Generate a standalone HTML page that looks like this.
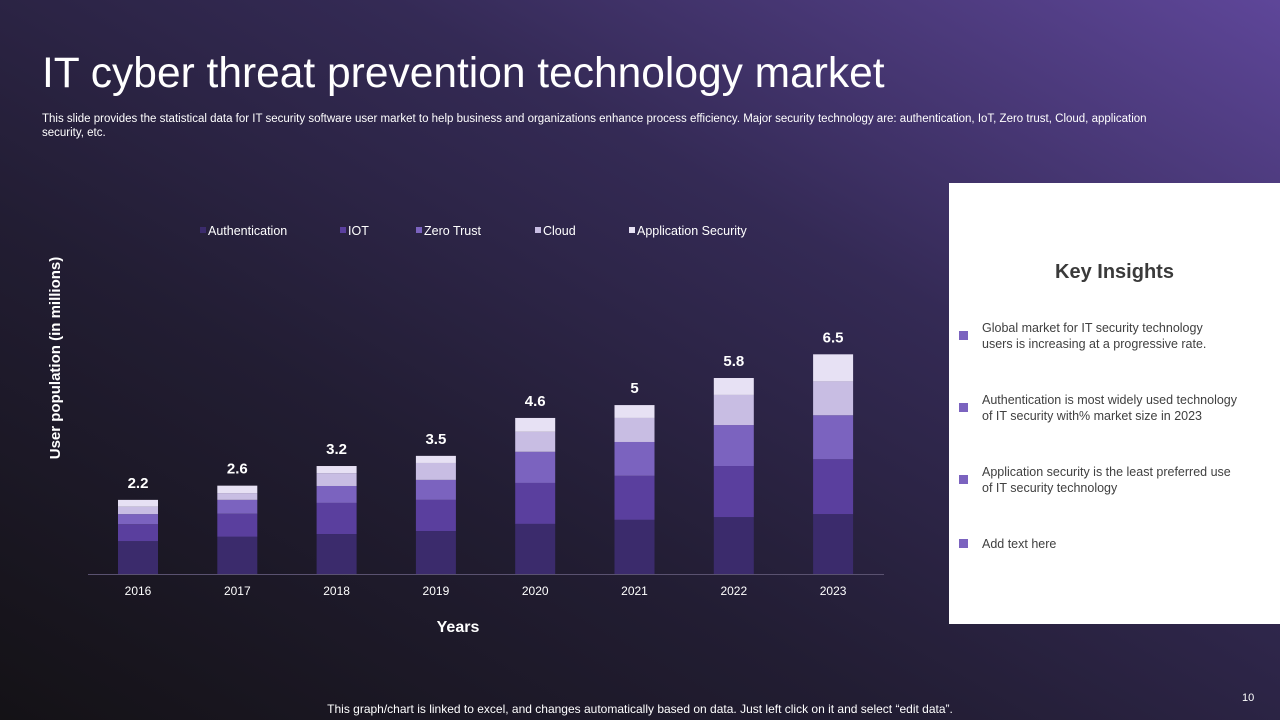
<!DOCTYPE html>
<html><head><meta charset="utf-8">
<style>
html,body{margin:0;padding:0}
body{width:1280px;height:720px;position:relative;overflow:hidden;font-family:"Liberation Sans",sans-serif;background:linear-gradient(to top right,#141216 0%,#221d33 35%,#342a55 65%,#5e4699 100%);color:#fff}
.abs{position:absolute}
#title{left:42px;top:50px;font-size:42.5px;color:#fff;white-space:nowrap}
#sub{left:42px;top:112px;width:1130px;font-size:11.5px;line-height:14px;color:#fff}
#panel{left:949px;top:183px;width:331px;height:441px;background:#fff}
#panel h2{position:absolute;left:0;width:331px;top:78px;margin:0;text-align:center;font-size:20px;color:#3a3a3a;font-weight:bold}
.ins{position:absolute;left:33px;width:250px;font-size:12.5px;line-height:16px;color:#404040}
.bul{position:absolute;left:10px;width:9px;height:9px;background:#7b63bf}
#foot{left:0;width:1280px;top:702px;text-align:center;font-size:12px;color:#fff}
#pg{left:1242px;top:692px;font-size:11px;color:#fff}
</style></head><body>
<div id="title" class="abs">IT cyber threat prevention technology market</div>
<div id="sub" class="abs">This slide provides the statistical data for IT security software user market to help business and organizations enhance process efficiency. Major security technology are: authentication, IoT, Zero trust, Cloud, application security, etc.</div>

<svg class="abs" style="left:0;top:0" width="940" height="660">
<g id="legend"></g>
<g id="bars"></g>
<line x1="88" y1="574.5" x2="884" y2="574.5" stroke="#5a5270" stroke-width="1"/>
<g id="xt"></g>
<text x="458" y="632" text-anchor="middle" font-size="16" font-weight="bold" fill="#fff">Years</text>
<text transform="translate(60,358) rotate(-90)" text-anchor="middle" font-size="15" font-weight="bold" fill="#fff">User population (in millions)</text>
</svg>

<div id="panel" class="abs">
<h2>Key Insights</h2>
<div class="bul" style="top:148px"></div>
<div class="ins" style="top:137px">Global market for IT security technology users is increasing at a progressive rate.</div>
<div class="bul" style="top:220px"></div>
<div class="ins" style="top:209px;width:268px">Authentication is most widely used technology of IT security with% market size in 2023</div>
<div class="bul" style="top:292px"></div>
<div class="ins" style="top:281px;width:262px">Application security is the least preferred use of IT security technology</div>
<div class="bul" style="top:356px"></div>
<div class="ins" style="top:353px">Add text here</div>
</div>

<div id="foot" class="abs">This graph/chart is linked to excel, and changes automatically based on data. Just left click on it and select “edit data”.</div>
<div id="pg" class="abs">10</div>

<script>
const years=["2016","2017","2018","2019","2020","2021","2022","2023"];
const authentication=[0.97,1.1,1.18,1.27,1.48,1.6,1.68,1.77];
const iot=[0.5,0.68,0.92,0.92,1.21,1.3,1.51,1.62];
const zeroTrust=[0.3,0.41,0.5,0.59,0.92,1.0,1.21,1.3];
const cloud=[0.22,0.2,0.38,0.5,0.59,0.71,0.89,1.0];
const appSecurity=[0.2,0.22,0.21,0.21,0.41,0.38,0.5,0.8];
const totals=["2.2","2.6","3.2","3.5","4.6","5","5.8","6.5"];
const seriesNames=["Authentication","IOT","Zero Trust","Cloud","Application Security"];
const NS="http://www.w3.org/2000/svg";
const series=[authentication,iot,zeroTrust,cloud,appSecurity];
const colors=["#3b2b6c","#5a3f9e","#7b63bf","#c8bde3","#e7e1f4"];
const keys=["authentication","iot","zero-trust","cloud","application-security"];
const base=574, pxPer=33.85, x0=138, step=99.3, bw=40;
function yScale(v){return base-v*pxPer;}
function xScale(i){return x0+i*step;}
const gb=document.getElementById('bars'), gx=document.getElementById('xt'), gl=document.getElementById('legend');
years.forEach((yr,i)=>{
  let cum=0;
  series.forEach((s,k)=>{
    const r=document.createElementNS(NS,'rect');
    const y1=yScale(cum+s[i]), y0=yScale(cum);
    r.setAttribute('x',xScale(i)-bw/2);r.setAttribute('y',y1);
    r.setAttribute('width',bw);r.setAttribute('height',y0-y1);
    r.setAttribute('fill',colors[k]);
    
    
    gb.appendChild(r);
    cum+=s[i];
  });
  const t=document.createElementNS(NS,'text');
  t.setAttribute('x',xScale(i));t.setAttribute('y',yScale(cum)-12);
  t.setAttribute('text-anchor','middle');t.setAttribute('font-size','15');t.setAttribute('font-weight','bold');t.setAttribute('fill','#fff');
  t.textContent=totals[i];
  
  
  gb.appendChild(t);
  const xt=document.createElementNS(NS,'text');
  xt.setAttribute('x',xScale(i));xt.setAttribute('y',595);
  xt.setAttribute('text-anchor','middle');xt.setAttribute('font-size','12');xt.setAttribute('fill','#fff');
  xt.textContent=yr;
  
  
  gx.appendChild(xt);
});
const lx=[200,340,416,535,629];
seriesNames.forEach((n,k)=>{
  const m=document.createElementNS(NS,'rect');
  m.setAttribute('x',lx[k]);m.setAttribute('y',227);m.setAttribute('width',6);m.setAttribute('height',6);m.setAttribute('fill',colors[k]);
  
  
  gl.appendChild(m);
  const t=document.createElementNS(NS,'text');
  t.setAttribute('x',lx[k]+8);t.setAttribute('y',235);t.setAttribute('font-size','12.5');t.setAttribute('fill','#fff');
  t.textContent=n;
  
  
  gl.appendChild(t);
});
</script>
</body></html>
